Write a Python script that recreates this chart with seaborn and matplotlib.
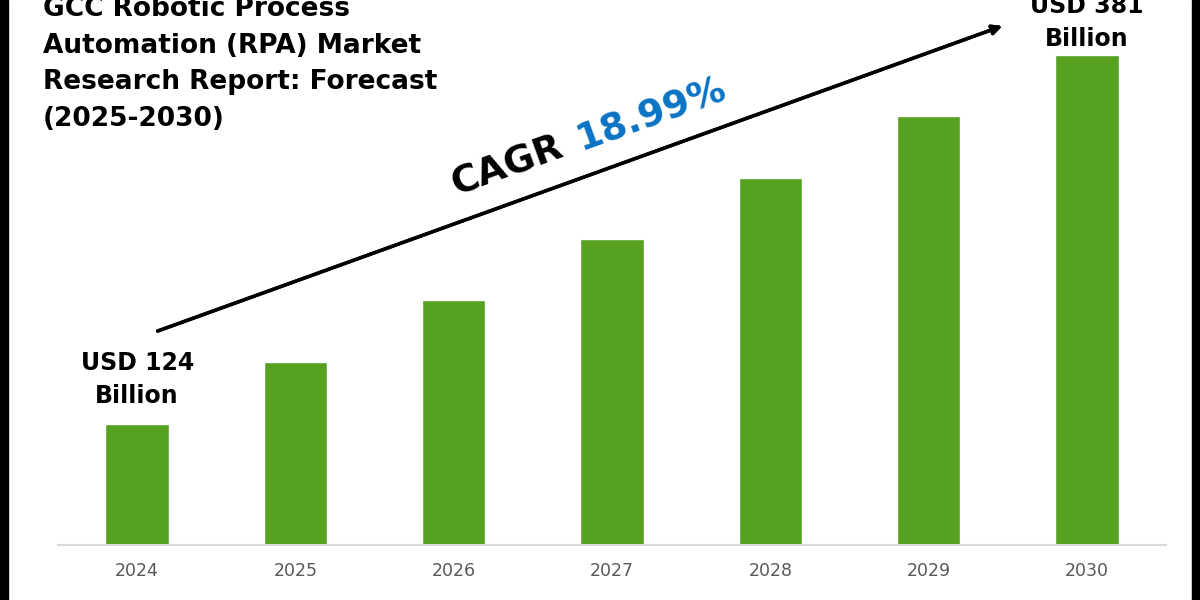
import numpy as np
import pandas as pd
import matplotlib.pyplot as plt
import seaborn as sns
from matplotlib.patches import Rectangle

# bar heights (relative units, baseline = 0)
years = ['2024', '2025', '2026', '2027', '2028', '2029', '2030']
values = [121, 183, 245, 306, 367, 429, 490]
start_label = ['USD 124', 'Billion']
end_label = ['USD 381', 'Billion']
cagr_value = '18.99%'
title_lines = ['GCC Robotic Process', 'Automation (RPA) Market',
               'Research Report: Forecast', '(2025-2030)']

df = pd.DataFrame({'year': years, 'value': values})

sns.set_theme(style='white')
plt.rcParams['font.family'] = ['DejaVu Sans']

fig = plt.figure(figsize=(12, 6), dpi=100)
W, H = 1200, 600


def fx(px):
    return px / W


def fy(py):
    return 1 - py / H


# axes spans pixel x 58..1166, y 0..545
ax = fig.add_axes([fx(58), fy(545), fx(1166) - fx(58), 545 / H])
sns.barplot(data=df, x='year', y='value', color='#57A121',
            saturation=1, width=0.4, ax=ax)
ax.set_ylim(0, 545)
ax.set_xlim(-0.5, len(years) - 0.5)
ax.set_xlabel('')
ax.set_ylabel('')
ax.set_yticks([])
for s in ['top', 'left', 'right']:
    ax.spines[s].set_visible(False)
ax.spines['bottom'].set_color('#d9d9d9')
ax.spines['bottom'].set_linewidth(1.5)
ax.tick_params(axis='x', length=0, pad=12, labelsize=12.5, labelcolor='#595959')

# value labels at first and last bar (one text per line)
for j, line in enumerate(start_label):
    ax.text(0, values[0] + 54 - 33 * j, line, ha='center', va='baseline',
            fontsize=17, fontweight='bold', color='black')
for j, line in enumerate(end_label):
    ax.text(len(years) - 1, values[-1] + 42 - 33 * j, line, ha='center',
            va='baseline', fontsize=17, fontweight='bold', color='black')

# title, cut at the top like the source
for i, line in enumerate(title_lines):
    fig.text(fx(43), fy(16 + 36.7 * i), line, ha='left', va='baseline',
             fontsize=19, fontweight='bold', color='black')

# growth arrow
fig.add_artist(plt.annotate(
    '', xy=(fx(1005), fy(25)), xytext=(fx(155), fy(332)),
    xycoords='figure fraction', textcoords='figure fraction',
    arrowprops=dict(arrowstyle='-|>', color='black', lw=2.5,
                    mutation_scale=14)))

angle = np.degrees(np.arctan2(332 - 25, 1005 - 155))
fig.text(fx(456), fy(196), 'CAGR', rotation=angle, rotation_mode='anchor',
         ha='left', va='baseline', fontsize=27, fontweight='bold',
         color='black')
fig.text(fx(582), fy(151), cagr_value, rotation=angle, rotation_mode='anchor',
         ha='left', va='baseline', fontsize=27, fontweight='bold',
         color='#0A73C4')

# black side borders
fig.add_artist(Rectangle((0, 0), fx(8), 1, transform=fig.transFigure,
                         color='black'))
fig.add_artist(Rectangle((fx(1192), 0), fx(8), 1, transform=fig.transFigure,
                         color='black'))

plt.savefig('out.png', dpi=100)
